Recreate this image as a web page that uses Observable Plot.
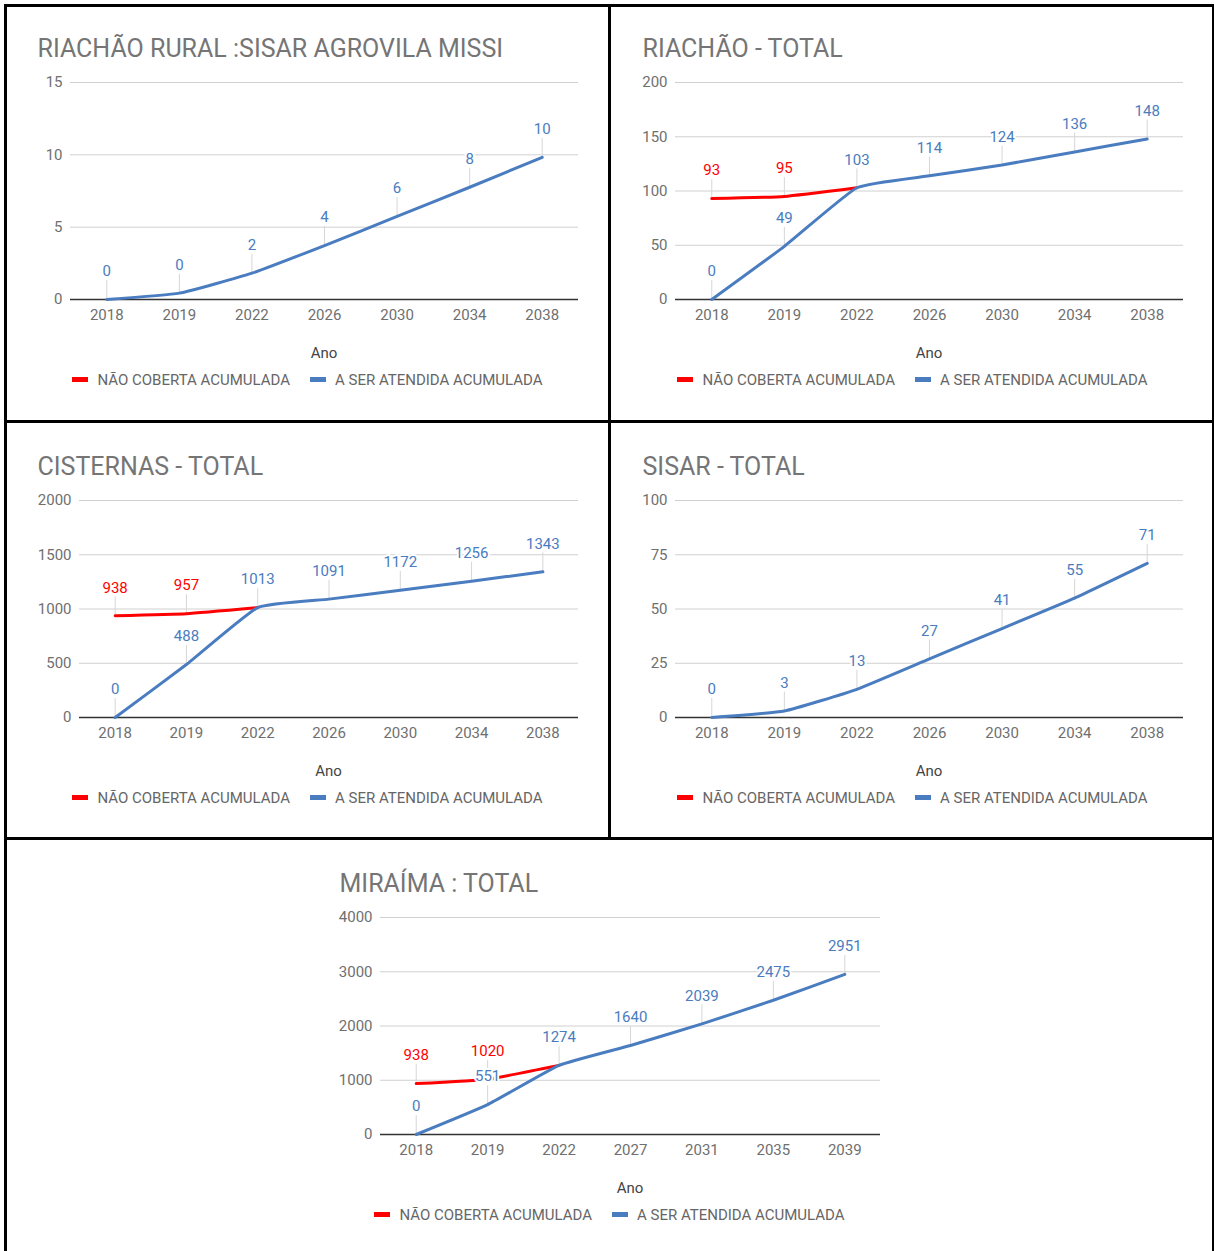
<!DOCTYPE html>
<html><head><meta charset="utf-8">
<script src="https://cdn.jsdelivr.net/npm/d3@7"></script>
<script src="https://cdn.jsdelivr.net/npm/@observablehq/plot@0.6"></script>
<style>
body{margin:0;background:#fff;font-family:Roboto,sans-serif;}
#page{position:relative;width:1214px;height:1251px;overflow:hidden;background:#fff;}
.b{position:absolute;background:#000;}
.title{position:absolute;font-size:25px;line-height:25px;color:#757575;white-space:nowrap;}
.xlab{position:absolute;font-size:15px;line-height:15px;color:#444;text-align:center;}
.legend{position:absolute;height:20px;display:flex;justify-content:center;align-items:center;font-size:15px;color:#666;white-space:nowrap;}
.legend .item{display:flex;align-items:center;margin:0 10px;}
.legend .sw{width:16px;height:5px;margin-right:9px;}
.plot{position:absolute;}
</style></head><body><div id="page"></div>
<script>
// ---- data ----
const years = ["2018","2019","2022","2026","2030","2034","2038"];
const yearsMiraima = ["2018","2019","2022","2027","2031","2035","2039"];
const seriesNames = ["NÃO COBERTA ACUMULADA", "A SER ATENDIDA ACUMULADA"];
const xLabel = "Ano";

const titles = ["RIACHÃO RURAL :SISAR AGROVILA MISSI", "RIACHÃO - TOTAL", "CISTERNAS - TOTAL", "SISAR - TOTAL", "MIRAÍMA : TOTAL"];

const ruralAtendida = [0, 0.44, 1.82, 3.73, 5.74, 7.76, 9.83];
const ruralNaoCoberta = [];
const riachaoAtendida = [0, 49, 103, 114, 124, 136, 148];
const riachaoNaoCoberta = [93, 95, 103];
const cisternasAtendida = [0, 488, 1013, 1091, 1172, 1256, 1343];
const cisternasNaoCoberta = [938, 957, 1013];
const sisarAtendida = [0, 3, 13, 27, 41, 55, 71];
const sisarNaoCoberta = [];
const miraimaAtendida = [0, 551, 1274, 1640, 2039, 2475, 2951];
const miraimaNaoCoberta = [938, 1020, 1274];

const yTicks1 = [0, 5, 10, 15];
const yTicks2 = [0, 50, 100, 150, 200];
const yTicks3 = [0, 500, 1000, 1500, 2000];
const yTicks4 = [0, 25, 50, 75, 100];
const yTicks5 = [0, 1000, 2000, 3000, 4000];

// ---- style ----
const RED = "#ff0000";
const BLUE = "#4a7cc0";
const CURVE = d3.curveCardinal.tension(0.6);
const page = document.getElementById("page");

function add(cls, css, text) {
  const d = document.createElement("div");
  d.className = cls;
  Object.assign(d.style, css);
  if (text != null) d.textContent = text;
  page.appendChild(d);
  return d;
}

const stem = {draw(ctx, l) { ctx.moveTo(0, 0); ctx.lineTo(0, -l); }};

function panel(cx, cy, ml, title, yrs, atendida, naoCoberta, ticks) {
  add("title", {left: (cx + 37.5) + "px", top: (cy + 57 - 0.842 * 25) + "px"}, title);

  const blue = yrs.map((y, i) => ({year: y, value: atendida[i]}));
  const red = naoCoberta.map((v, i) => ({year: yrs[i], value: v}));
  const redLabels = red.filter((d, i) => Math.round(d.value) !== Math.round(atendida[i]));
  const allLabels = blue.concat(redLabels);
  const fmt = v => String(Math.round(v));

  const svg = Plot.plot({
    width: 605, height: 270,
    marginLeft: ml, marginRight: 27, marginTop: 20, marginBottom: 33,
    style: {fontFamily: "Roboto, sans-serif", fontSize: "15px", color: "#6f6f6f", background: "transparent", overflow: "visible"},
    x: {type: "point", domain: yrs, padding: 0.5, round: false, label: null, tickSize: 0, tickPadding: 10},
    y: {domain: [ticks[0], ticks[ticks.length - 1]], ticks, tickFormat: d => String(d), label: null, tickSize: 0, tickPadding: 8},
    marks: [
      Plot.ruleY(ticks.filter(v => v > 0), {stroke: "#d0d0d0", strokeWidth: 1}),
      Plot.ruleY([0], {stroke: "#333", strokeWidth: 1.3}),
      Plot.vector(allLabels, {x: "year", y: "value", length: 19, anchor: "start", shape: stem, stroke: "#d6d6d6", strokeWidth: 1}),
      Plot.line(red, {x: "year", y: "value", stroke: RED, strokeWidth: 3, curve: CURVE}),
      Plot.line(blue, {x: "year", y: "value", stroke: BLUE, strokeWidth: 3, curve: CURVE}),
      Plot.text(redLabels, {x: "year", y: "value", text: d => fmt(d.value), dy: -28, fill: RED, stroke: "white", strokeWidth: 4, fontSize: 15}),
      Plot.text(blue, {x: "year", y: "value", text: d => fmt(d.value), dy: -28, fill: BLUE, stroke: "white", strokeWidth: 4, fontSize: 15})
    ]
  });
  svg.classList.add("plot");
  svg.style.left = cx + "px";
  svg.style.top = (cy + 62) + "px";
  page.appendChild(svg);

  add("xlab", {left: (cx + ml) + "px", width: (578 - ml) + "px", top: (cy + 359 - 0.842 * 15) + "px"}, xLabel);

  const lg = add("legend", {left: cx + "px", width: "615px", top: (cy + 369.5) + "px"});
  [[RED, seriesNames[0]], [BLUE, seriesNames[1]]].forEach(([c, n]) => {
    const it = document.createElement("div"); it.className = "item";
    const sw = document.createElement("div"); sw.className = "sw"; sw.style.background = c;
    const tx = document.createElement("span"); tx.textContent = n;
    it.appendChild(sw); it.appendChild(tx); lg.appendChild(it);
  });
}

panel(0, 0, 70, titles[0], years, ruralAtendida, ruralNaoCoberta, yTicks1);
panel(605, 0, 70, titles[1], years, riachaoAtendida, riachaoNaoCoberta, yTicks2);
panel(0, 418, 79, titles[2], years, cisternasAtendida, cisternasNaoCoberta, yTicks3);
panel(605, 418, 70, titles[3], years, sisarAtendida, sisarNaoCoberta, yTicks4);
panel(302, 835, 78, titles[4], yearsMiraima, miraimaAtendida, miraimaNaoCoberta, yTicks5);

// ---- panel borders ----
add("b", {left: "4px", top: "4px", width: "3px", height: "1247px"});
add("b", {left: "4px", top: "4px", width: "1210px", height: "3px"});
add("b", {left: "1212px", top: "4px", width: "2px", height: "1247px"});
add("b", {left: "608px", top: "4px", width: "3px", height: "836px"});
add("b", {left: "4px", top: "420px", width: "1210px", height: "3px"});
add("b", {left: "4px", top: "837px", width: "1210px", height: "3px"});
</script></body></html>
